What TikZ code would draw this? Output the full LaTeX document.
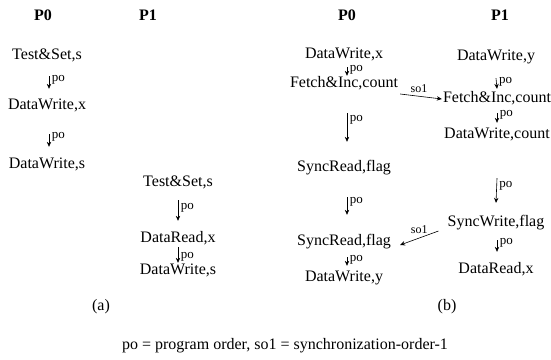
\documentclass[tikz,border=0pt]{standalone}
\usepackage{fontspec}
\setmainfont{Liberation Serif}
\usetikzlibrary{arrows.meta}
\tikzset{
  ev/.style={inner sep=0pt, text height=10pt, text depth=3pt, font=\fontsize{16}{18}\selectfont},
  hd/.style={inner sep=0pt, font=\bfseries\fontsize{16}{18}\selectfont},
  captext/.style={inner sep=0pt, font=\fontsize{16}{18}\selectfont},
  lab/.style={inner sep=0pt, anchor=west, xshift=2.5pt, font=\fontsize{13}{14}\selectfont},
  slab/.style={inner sep=0pt, font=\fontsize{12}{13}\selectfont},
  arr/.style={-{Stealth[length=5pt,width=4.4pt]}, line width=0.6pt},
}
\begin{document}
\begin{tikzpicture}[x=1pt,y=-1pt]
\useasboundingbox (0,0) rectangle (551,359);
% (a)
\node[hd] (pa0) at (43,15) {P0};
\node[hd] (pa1) at (148,15) {P1};
\node[ev] (a1) at (47,56) {Test\&Set,s};
\node[ev] (a2) at (47,106) {DataWrite,x};
\node[ev] (a3) at (47,165) {DataWrite,s};
\node[ev] (b1) at (178,183) {Test\&Set,s};
\node[ev] (b2) at (178,239) {DataRead,x};
\node[ev] (b3) at (178,271) {DataWrite,s};
\draw[arr] ([shift={(2,13.5)}]a1.south) -- ([shift={(2,-10.5)}]a2.north) node[lab,pos=0.3] {po};
\draw[arr] ([shift={(2,21.5)}]a2.south) -- ([shift={(2,-11.5)}]a3.north) node[lab,pos=0.23] {po};
\draw[arr] ([shift={(0,10.5)}]b1.south) -- ([shift={(0,-11.5)}]b2.north) node[lab,pos=0.35] {po};
\draw[arr] ([shift={(0,1.5)}]b2.south) -- ([shift={(0,-1.5)}]b3.north) node[lab,pos=0.6] {po};
\node[captext] (la) at (101,307) {(a)};
% (b)
\node[hd] (pb0) at (347,15) {P0};
\node[hd] (pb1) at (500,15) {P1};
\node[ev] (c1) at (344,55) {DataWrite,x};
\node[ev] (c2) at (344,84) {Fetch\&Inc,count};
\node[ev] (c3) at (344,168) {SyncRead,flag};
\node[ev] (c4) at (344,242) {SyncRead,flag};
\node[ev] (c5) at (344,278) {DataWrite,y};
\node[ev] (d1) at (496,57) {DataWrite,y};
\node[ev] (d2) at (497,99) {Fetch\&Inc,count};
\node[ev] (d3) at (497,135) {DataWrite,count};
\node[ev] (d4) at (496,223) {SyncWrite,flag};
\node[ev] (d5) at (496,270) {DataRead,x};
\draw[arr] ([shift={(3,5.5)}]c1.south) -- ([shift={(3,-1.5)}]c2.north) node[lab,pos=0.25] {po};
\draw[arr] ([shift={(3,22.5)}]c2.south) -- ([shift={(3,-19.5)}]c3.north) node[lab,pos=0.24] {po};
\draw[arr] ([shift={(3,22.5)}]c3.south) -- ([shift={(3,-20.5)}]c4.north) node[lab,pos=0.28] {po};
\draw[arr] ([shift={(3,8.5)}]c4.south) -- ([shift={(3,-5.5)}]c5.north) node[lab,pos=0.33] {po};
\draw[arr] ([shift={(0,14.5)}]d1.south) -- ([shift={(0,-3.5)}]d2.north) node[lab,pos=0.36] {po};
\draw[arr] ([shift={(0,7.5)}]d2.south) -- ([shift={(0,-5.5)}]d3.north) node[lab,pos=0.2] {po};
\draw[arr] ([shift={(0,36.5)}]d3.south) -- ([shift={(0,-13.5)}]d4.north) node[lab,pos=0.32] {po};
\draw[arr] ([shift={(1,10.5)}]d4.south) -- ([shift={(1,-11.5)}]d5.north) node[lab,pos=0.25] {po};
\draw[arr] ([shift={(2,10)}]c2.east) -- ([shift={(-1,0)}]d2.west) node[slab,pos=0.45,above=3.5pt] {so1};
\draw[arr] ([shift={(-9,8)}]d4.west) -- ([shift={(9,3)}]c4.east) node[slab,pos=0.5,above=4pt] {so1};
\node[captext] (lb) at (447,307) {(b)};
\node[captext] (key) at (285,346) {po = program order, so1 = synchronization-order-1};
\end{tikzpicture}
\end{document}
